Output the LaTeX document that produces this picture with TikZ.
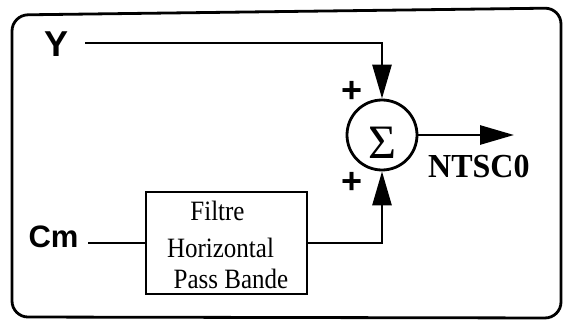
\documentclass[tikz,border=0pt]{standalone}
\usepackage{graphicx}
\usepackage{fontspec}
\setmainfont{Liberation Serif}
\newfontfamily\helv{Liberation Sans}
\usetikzlibrary{arrows.meta}
\tikzset{
  wire/.style={line width=2.8pt},
  sig/.style={wire,-{Triangle[length=34pt,width=19pt]}},
  boxnode/.style={draw,line width=2.8pt,minimum width=161pt,minimum height=102pt,inner sep=0pt},
  sumnode/.style={draw,circle,line width=2.8pt,minimum size=70pt,inner sep=0pt},
  lbl/.style={anchor=base,inner sep=0pt},
  plus/.style={anchor=center,inner sep=0pt,font=\helv\fontsize{36}{36}\selectfont\bfseries},
  boxtext/.style={lbl,font=\fontsize{25}{25}\selectfont},
}
\begin{document}
\begin{tikzpicture}[x=1pt,y=-1pt]
\useasboundingbox (0,0) rectangle (563,321);
\draw[line width=2.8pt,rounded corners=16pt] (12,15) -- (561,8) -- (561,318) -- (12,317) -- cycle;
% labels
\node[lbl] (ylab) at (57,57) {\helv\fontsize{36}{36}\selectfont\bfseries Y};
\node[lbl] (cmlab) at (53.5,247) {\helv\fontsize{31}{31}\selectfont\bfseries Cm};
% blocks
\node[boxnode] (filt) at (226.5,243) {};
\node[boxtext] (t1) at (217.5,220) {\scalebox{1}[1.12]{Filtre}};
\node[boxtext] (t2) at (220.5,257) {\scalebox{1}[1.12]{Horizontal}};
\node[boxtext] (t3) at (231,288) {\scalebox{1}[1.12]{Pass Bande}};
\node[sumnode] (sum) at (382,135) {};
\node[lbl] (sigma) at (382,158) {\fontsize{48}{48}\selectfont Σ};
\node[plus] (p1) at (352,92) {+};
\node[plus] (p2) at (352,183) {+};
\node[lbl,anchor=base west] (ntsc) at (428,177) {\fontsize{32}{32}\selectfont\bfseries\scalebox{1}[1.05]{NTSC0}};
% connectors
\coordinate (ys) at (85,43);
\coordinate (cs) at (88,243);
\coordinate (out) at (514,135);
\draw[sig] (ys) -| (sum.north);
\draw[wire] (cs) -- (filt.west);
\draw[sig] (filt.east) -| (sum.south);
\draw[sig] (sum.east) -- (out);
\end{tikzpicture}
\end{document}
